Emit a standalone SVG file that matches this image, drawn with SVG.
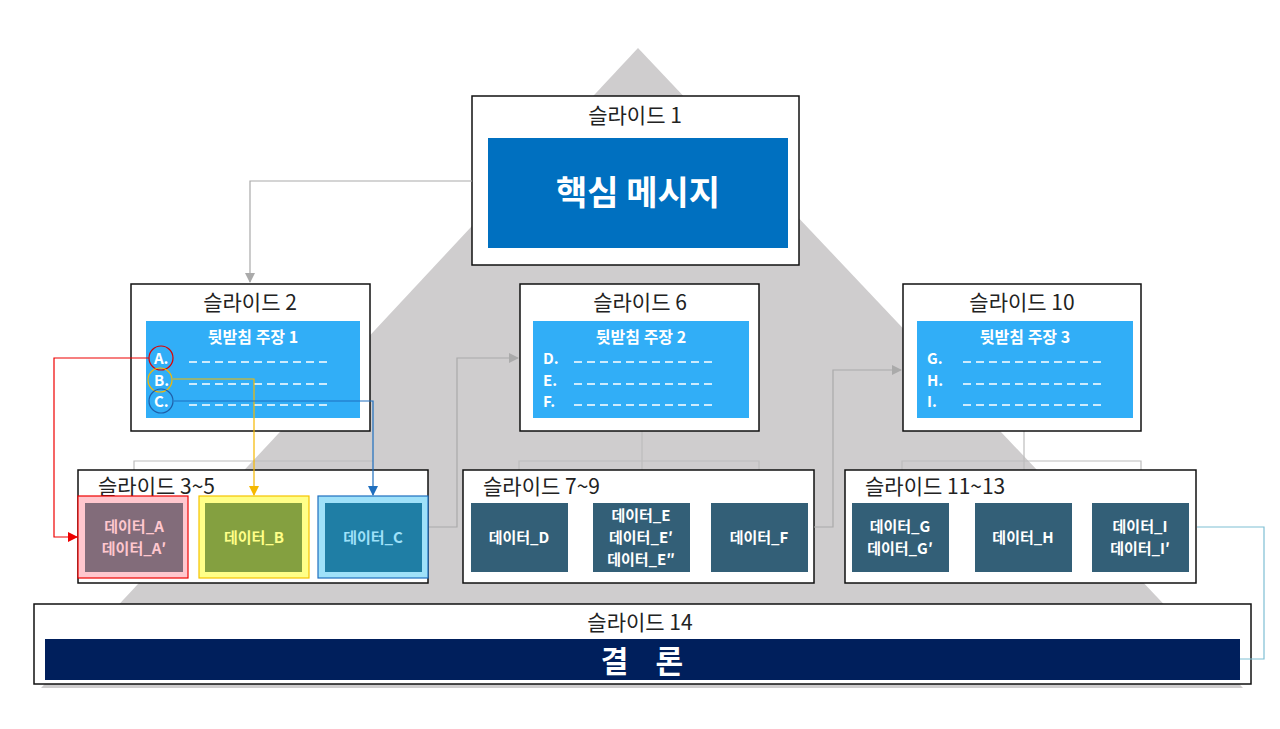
<svg xmlns="http://www.w3.org/2000/svg" width="1280" height="729" viewBox="0 0 1280 729">
<defs>
<style>
text{font-family:"Noto Sans CJK KR","Noto Sans",sans-serif}
.box{fill:#fff;stroke:#111;stroke-width:1.5}
.st{font-size:21px;fill:#222}
.cl{fill:#31aef7}
.ct{font-size:16px;font-weight:bold;fill:#fff}
.it{font-size:15px;font-weight:bold;fill:#fff}
.dash{stroke:#fff;stroke-width:1.5;stroke-dasharray:8,5}
.d{fill:#335f77}
.dt{font-size:15px;font-weight:bold;fill:#fff;text-anchor:middle}
.g{fill:none;stroke:#bdbdbd;stroke-width:1.2}
</style>
<marker id="ag" markerWidth="10" markerHeight="10" refX="9" refY="5" orient="auto" markerUnits="userSpaceOnUse"><path d="M0,0L10,5L0,10z" fill="#aaa"/></marker>
<marker id="ar" markerWidth="10" markerHeight="10" refX="9" refY="5" orient="auto" markerUnits="userSpaceOnUse"><path d="M0,0L10,5L0,10z" fill="#e00"/></marker>
<marker id="ay" markerWidth="10" markerHeight="10" refX="9" refY="5" orient="auto" markerUnits="userSpaceOnUse"><path d="M0,0L10,5L0,10z" fill="#f5b800"/></marker>
<marker id="ab" markerWidth="10" markerHeight="10" refX="9" refY="5" orient="auto" markerUnits="userSpaceOnUse"><path d="M0,0L10,5L0,10z" fill="#1f6fbf"/></marker>
</defs>
<rect width="1280" height="729" fill="#fff"/>
<polygon points="638,48 41,688 1243,688" fill="#cfcdce"/>
<g id="tree" class="g">
<path d="M134,500V461H373"/>
<path d="M642,419V502M519,502V461H759V502"/>
<path d="M1024,419V502M902,502V461H1141V502"/>
</g>
<g id="slide1"><rect class="box" x="472" y="96" width="327" height="169"/>
<text class="st" x="635" y="123" text-anchor="middle">슬라이드 1</text>
<rect x="488" y="138" width="300" height="110" fill="#0070c0"/>
<text x="638" y="205" text-anchor="middle" font-size="34" font-weight="bold" fill="#fff">핵심 메시지</text></g>
<g id="slide2"><rect class="box" x="131" y="284" width="239" height="147"/>
<text class="st" x="250" y="310" text-anchor="middle">슬라이드 2</text>
<rect class="cl" x="146" y="321" width="214" height="97"/>
<text class="ct" x="253" y="343" text-anchor="middle">뒷받침 주장 1</text>
<text class="it" x="154" y="364">A.</text><text class="it" x="154" y="386">B.</text><text class="it" x="154" y="407">C.</text>
<path class="dash" d="M189,362H330M189,384H330M189,405H330"/></g>
<g id="slide6"><rect class="box" x="520" y="284" width="239" height="147"/>
<text class="st" x="640" y="310" text-anchor="middle">슬라이드 6</text>
<rect class="cl" x="533" y="321" width="216" height="97"/>
<text class="ct" x="641" y="343" text-anchor="middle">뒷받침 주장 2</text>
<text class="it" x="543" y="364">D.</text><text class="it" x="543" y="386">E.</text><text class="it" x="543" y="407">F.</text>
<path class="dash" d="M574,362H716M574,384H716M574,405H716"/></g>
<g id="slide10"><rect class="box" x="903" y="284" width="238" height="147"/>
<text class="st" x="1022" y="310" text-anchor="middle">슬라이드 10</text>
<rect class="cl" x="917" y="321" width="216" height="97"/>
<text class="ct" x="1025" y="343" text-anchor="middle">뒷받침 주장 3</text>
<text class="it" x="927" y="364">G.</text><text class="it" x="927" y="386">H.</text><text class="it" x="927" y="407">I.</text>
<path class="dash" d="M963,362H1105M963,384H1105M963,405H1105"/></g>
<g id="slide3-5"><rect class="box" x="78" y="470" width="350" height="113"/>
<text class="st" x="98" y="494">슬라이드 3~5</text>
<rect x="78" y="496" width="110" height="82" fill="#ffc7ce" stroke="#e00" stroke-width="1.2"/>
<rect x="85" y="503" width="98" height="69" fill="#826c7a"/>
<text class="dt" x="134" y="532" fill="#ffc7ce" style="fill:#ffc7ce">데이터_A</text><text class="dt" x="134" y="554" style="fill:#ffc7ce">데이터_A′</text>
<rect x="199" y="496" width="110" height="82" fill="#ffff88" stroke="#f5c400" stroke-width="1.2"/>
<rect x="205" y="503" width="97" height="69" fill="#84a040"/>
<text class="dt" x="254" y="543" style="fill:#ffff88">데이터_B</text>
<rect x="318" y="496" width="110" height="82" fill="#9fe1f9" stroke="#1f6fbf" stroke-width="1.2"/>
<rect x="325" y="503" width="97" height="69" fill="#1f7ea5"/>
<text class="dt" x="373" y="543" style="fill:#9fe1f9">데이터_C</text></g>
<g id="slide7-9"><rect class="box" x="463" y="470" width="351" height="113"/>
<text class="st" x="483" y="494">슬라이드 7~9</text>
<rect class="d" x="471" y="503" width="97" height="69"/><text class="dt" x="519" y="543">데이터_D</text>
<rect class="d" x="593" y="503" width="97" height="69"/><text class="dt" x="641" y="521">데이터_E</text><text class="dt" x="641" y="543">데이터_E′</text><text class="dt" x="641" y="565">데이터_E″</text>
<rect class="d" x="711" y="503" width="97" height="69"/><text class="dt" x="759" y="543">데이터_F</text></g>
<g id="slide11-13"><rect class="box" x="845" y="470" width="351" height="113"/>
<text class="st" x="865" y="494">슬라이드 11~13</text>
<rect class="d" x="852" y="503" width="97" height="69"/><text class="dt" x="900" y="532">데이터_G</text><text class="dt" x="900" y="554">데이터_G′</text>
<rect class="d" x="975" y="503" width="97" height="69"/><text class="dt" x="1023" y="543">데이터_H</text>
<rect class="d" x="1092" y="503" width="97" height="69"/><text class="dt" x="1140" y="532">데이터_I</text><text class="dt" x="1140" y="554">데이터_I′</text></g>
<g id="slide14"><rect class="box" x="34" y="604" width="1217" height="80"/>
<text class="st" x="640" y="630" text-anchor="middle">슬라이드 14</text>
<rect x="45" y="639" width="1195" height="41" fill="#001f5c"/>
<text x="642" y="672" text-anchor="middle" font-size="30" font-weight="bold" fill="#fff" xml:space="preserve">결    론</text></g>
<g id="connectors" fill="none" stroke-width="1.2">
<path d="M472,181H250V282" stroke="#aaa" marker-end="url(#ag)"/>
<path d="M429,527H457V358H518" stroke="#aaa" marker-end="url(#ag)"/>
<path d="M814,527H833V370H901" stroke="#aaa" marker-end="url(#ag)"/>
<path d="M1197,527H1264V659H1240" stroke="#7fbfd4"/>
<circle cx="161" cy="358" r="12" stroke="#d00"/>
<circle cx="160" cy="380" r="12" stroke="#f5b800"/>
<circle cx="161" cy="401" r="12" stroke="#1f5fa8"/>
<path d="M149,358H54V537H77" stroke="#e00" marker-end="url(#ar)"/>
<path d="M173,379H254V495" stroke="#f5b800" marker-end="url(#ay)"/>
<path d="M174,401H373V495" stroke="#1f6fbf" marker-end="url(#ab)"/>
</g>
</svg>
